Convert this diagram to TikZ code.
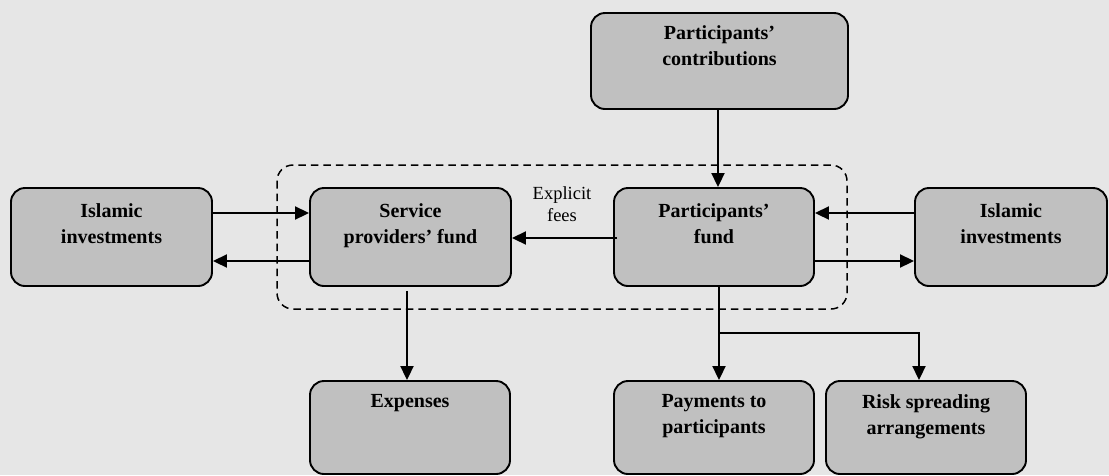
\documentclass[tikz,border=0pt]{standalone}
\usepackage{fontspec}
\setmainfont{Liberation Serif}
\usetikzlibrary{arrows.meta}
\definecolor{pagebg}{HTML}{E6E6E6}
\definecolor{boxfill}{HTML}{C0C0C0}
\begin{document}
\begin{tikzpicture}[x=1pt,y=-1pt,
  fundbox/.style={draw=black, line width=1.9pt, fill=boxfill, rounded corners=14pt,
    minimum width=#1, inner sep=0pt},
  boxtext/.style={anchor=north, inner sep=0pt, align=center, font=\bfseries\fontsize{20}{26.5}\selectfont},
  flow/.style={draw=black, line width=1.9pt, -{Triangle[length=14pt,width=13pt]}},
  feetext/.style={inner sep=0pt, align=center, font=\fontsize{18.5}{22}\selectfont},
  groupline/.style={draw=black, line width=1.5pt, dash pattern=on 7.5pt off 5pt, rounded corners=16pt}
]
% canvas
\fill[pagebg] (0,0) rectangle (1109,475);
\useasboundingbox (0,0) rectangle (1109,475);

% boxes
\node[fundbox=257pt, minimum height=96pt] (contrib) at (719.5,61) {};
\node[fundbox=201pt, minimum height=98pt] (invL) at (111.5,237) {};
\node[fundbox=201pt, minimum height=98pt] (spf) at (410.5,237) {};
\node[fundbox=200pt, minimum height=98pt] (pf) at (714,237) {};
\node[fundbox=192pt, minimum height=98pt] (invR) at (1011,237) {};
\begin{scope}
  \clip (0,0) rectangle (1109,475);
  \node[fundbox=200pt, minimum height=93pt] (exp) at (410,427.5) {};
  \node[fundbox=200pt, minimum height=93pt] (pay) at (714,427.5) {};
  \node[fundbox=200pt, minimum height=93pt] (risk) at (926,427.5) {};
\end{scope}

% box texts (y axis points down, so a negative yshift moves text down)
\node[boxtext] (tcontrib) at ([yshift=-13pt]contrib.north) {Participants’\\contributions};
\node[boxtext] (tinvL) at ([yshift=-16pt]invL.north) {Islamic\\investments};
\node[boxtext] (tspf) at ([yshift=-16pt]spf.north) {Service\\providers’ fund};
\node[boxtext] (tpf) at ([yshift=-16pt]pf.north) {Participants’\\fund};
\node[boxtext] (tinvR) at ([yshift=-16pt]invR.north) {Islamic\\investments};
\node[boxtext] (texp) at ([yshift=-14pt]exp.north) {Expenses};
\node[boxtext] (tpay) at ([yshift=-14pt]pay.north) {Payments to\\participants};
\node[boxtext] (trisk) at ([yshift=-14pt]risk.north) {Risk spreading\\arrangements};

% dashed grouping of the two funds
\draw[groupline] (277,165) rectangle (847,309);

% connectors
\draw[flow] (contrib.south -| 718,0) -- (pf.north -| 718,0);
\draw[flow] (invL.east |- 0,213) -- (spf.west |- 0,213);
\draw[flow] (spf.west |- 0,261) -- (invL.east |- 0,261);
\draw[flow] (invR.west |- 0,213) -- (pf.east |- 0,213);
\draw[flow] (pf.east |- 0,261) -- (invR.west |- 0,261);
\draw[flow] ([xshift=4pt]pf.west |- 0,238) -- (spf.east |- 0,238);
\node[feetext] (fees) at (562,204) {Explicit\\fees};
\draw[flow] ([yshift=-4pt]spf.south -| 407,0) -- (exp.north -| 407,0);
\coordinate (split) at (719,333);
\draw[flow] (pf.south -| 719,0) -- (pay.north -| 719,0);
\draw[flow] (split) -| (risk.north -| 919,0);
\end{tikzpicture}
\end{document}
